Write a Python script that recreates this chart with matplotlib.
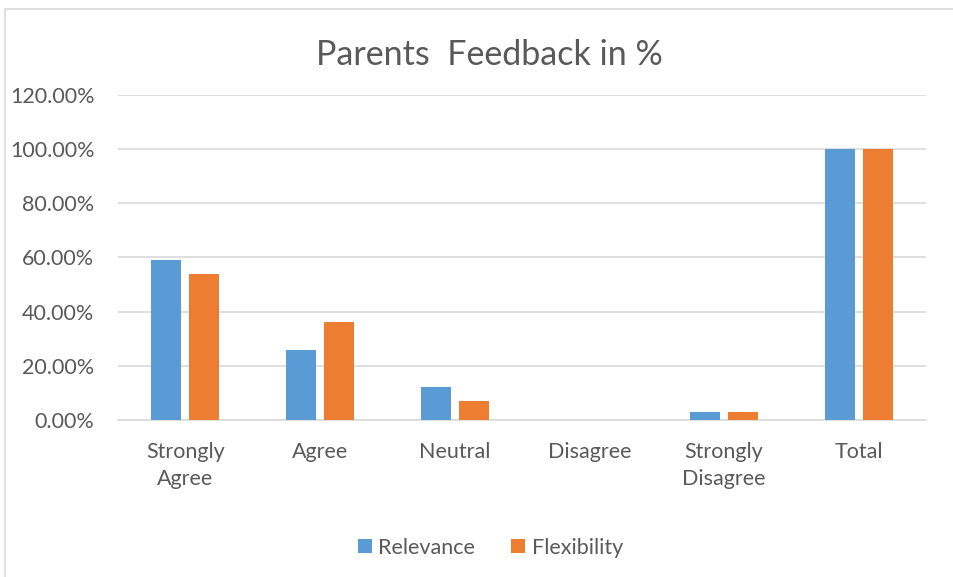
import numpy as np
import matplotlib.pyplot as plt
from matplotlib.patches import Rectangle

categories = ["Strongly\nAgree", "Agree", "Neutral", "Disagree", "Strongly\nDisagree", "Total"]
relevance = [0.59, 0.26, 0.12, 0.0, 0.03, 1.00]
flexibility = [0.54, 0.36, 0.07, 0.0, 0.03, 1.00]

plt.rcParams['font.family'] = ['Lato', 'DejaVu Sans']
text_col = "#595959"

fig = plt.figure(figsize=(9.54, 5.77), dpi=100)
ax = fig.add_axes([0.1237, 0.2721, 0.8469, 0.5633])

# outer chart border (only left/top visible in the reference)
fig.patches.append(Rectangle((5 / 954, -0.1), 1.2, 1 - 9 / 577 + 0.1,
                             transform=fig.transFigure, fill=False,
                             edgecolor="#d9d9d9", linewidth=1.2))

x = np.arange(len(categories))
w = 0.223
off = 0.141
ax.bar(x - off, relevance, w, color="#5b9bd5", label="Relevance", zorder=3)
ax.bar(x + off, flexibility, w, color="#ed7d31", label="Flexibility", zorder=3)

ax.set_xlim(-0.5, len(categories) - 0.5)
ax.set_ylim(0, 1.2)
ax.set_yticks(np.arange(0, 1.21, 0.2))
ax.set_yticklabels([f"{v * 100:.2f}%" for v in np.arange(0, 1.21, 0.2)])
ax.set_xticks(x)
ax.set_xticklabels(categories, linespacing=1.45)
ax.tick_params(axis="both", length=0, labelsize=15.5, colors=text_col)
ax.tick_params(axis="y", pad=17)
ax.tick_params(axis="x", pad=16)

ax.grid(axis="y", color="#d9d9d9", linewidth=1.2, zorder=0)
for s in ["top", "right", "left"]:
    ax.spines[s].set_visible(False)
ax.spines["bottom"].set_color("#d9d9d9")
ax.spines["bottom"].set_linewidth(1.2)

fig.text(0.513, 0.905, "Parents  Feedback in %", ha="center", va="center",
         fontsize=24.5, color=text_col)

fig.legend(loc="center", bbox_to_anchor=(0.514, 0.051), ncol=2, frameon=False,
           fontsize=15.5, labelcolor=text_col, handlelength=0.65, handleheight=0.65,
           columnspacing=1.7, handletextpad=0.3)

fig.savefig("out.png", dpi=100)
